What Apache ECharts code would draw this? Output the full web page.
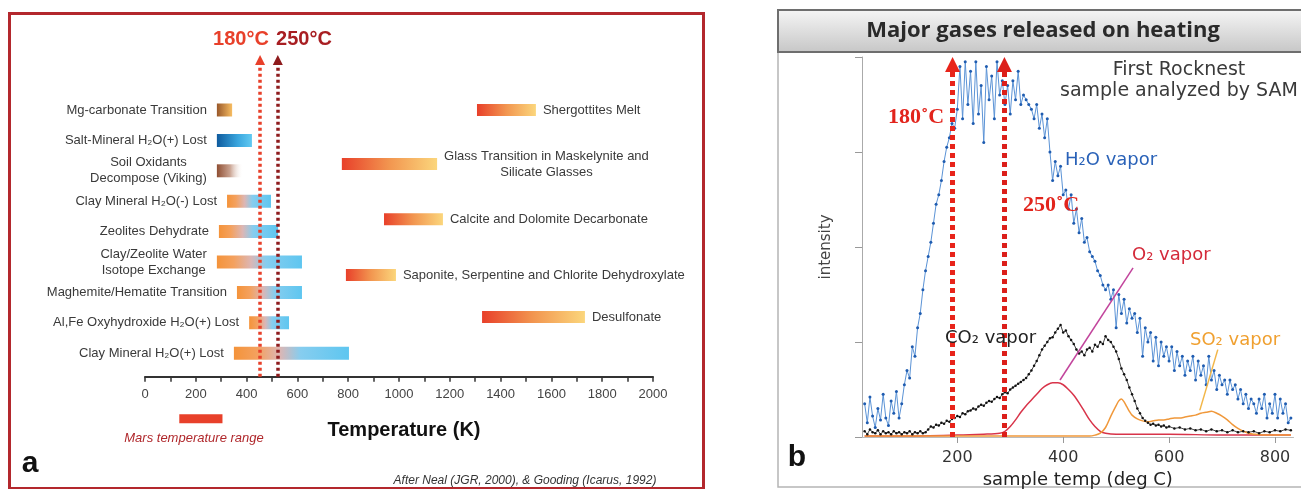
<!DOCTYPE html>
<html><head><meta charset="utf-8">
<script src="https://cdn.jsdelivr.net/npm/echarts@6/dist/echarts.min.js"></script>
<style>html,body{margin:0;padding:0;background:#fff;}#c{width:1301px;height:489px;}</style>
</head><body><div id="c"></div>
<script>
// ---------- Panel a data (temperature in K) ----------
const leftLabels = ['Mg-carbonate Transition', 'Salt-Mineral H\u2082O(+) Lost', 'Soil Oxidants\nDecompose (Viking)', 'Clay Mineral H\u2082O(-) Lost', 'Zeolites Dehydrate', 'Clay/Zeolite Water\nIsotope Exchange', 'Maghemite/Hematite Transition', 'Al,Fe Oxyhydroxide H\u2082O(+) Lost', 'Clay Mineral H\u2082O(+) Lost'];
const leftStart = [283, 283, 283, 323, 291, 283, 362, 410, 350];
const leftEnd   = [343, 421, 386, 496, 524, 618, 618, 567, 803];
const leftRow   = [0, 1, 2, 3, 4, 5, 6, 7, 8];
const leftKind  = ['carb', 'salt', 'oxid', 'clay', 'clay', 'clay', 'clay', 'clay', 'clay'];
const rightLabels = ['Shergottites Melt', 'Glass Transition in Maskelynite and\nSilicate Glasses', 'Calcite and Dolomite Decarbonate', 'Saponite, Serpentine and Chlorite Dehydroxylate', 'Desulfonate'];
const rightStart = [1307, 775, 941, 791, 1327];
const rightEnd   = [1539, 1150, 1173, 988, 1732];
const rightRow   = [0, 1.78, 3.59, 5.43, 6.81];
const marsRange  = [135, 305];
const marsRow    = 10.16;
const markK      = [453, 523];          // 180°C and 250°C in K
const markKLabels = ['180°C', '250°C'];

// ---------- Panel b data (deg C, intensity) ----------
const markC = [191, 289];
const tempTicks = [200, 400, 600, 800];
const h2o = [[25,0.35],[30,0.15],[35,0.42],[40,0.22],[45,0.10],[50,0.30],[55,0.18],[60,0.45],[65,0.20],[70,0.12],[75,0.38],[80,0.25],[85,0.48],[90,0.20],[95,0.35],[100,0.55],[105,0.70],[110,0.62],[115,0.95],[120,0.85],[125,1.15],[130,1.30],[135,1.55],[140,1.75],[145,1.90],[150,2.05],[155,2.25],[160,2.45],[165,2.55],[170,2.70],[175,2.90],[180,3.05],[185,3.15],[190,3.30],[195,3.25],[200,3.45],[205,3.90],[210,3.35],[215,3.95],[220,3.50],[225,3.85],[230,3.30],[235,3.95],[240,3.40],[245,3.70],[250,3.10],[255,3.90],[260,3.55],[265,3.80],[270,3.35],[275,3.95],[280,3.60],[285,3.75],[290,3.50],[295,3.70],[300,3.40],[305,3.75],[310,3.55],[315,3.85],[320,3.50],[325,3.60],[330,3.55],[335,3.50],[340,3.45],[345,3.35],[350,3.50],[355,3.25],[360,3.40],[365,3.15],[370,3.35],[375,3.00],[380,2.70],[385,2.90],[390,2.75],[395,2.85],[400,2.55],[405,2.60],[410,2.40],[415,2.55],[420,2.25],[425,2.40],[430,2.15],[435,2.30],[440,2.05],[445,2.10],[450,1.95],[455,1.90],[460,1.85],[465,1.75],[470,1.70],[475,1.60],[480,1.55],[485,1.60],[490,1.45],[495,1.55],[500,1.15],[505,1.50],[510,1.30],[515,1.45],[520,1.20],[525,1.35],[530,1.25],[535,1.30],[540,1.10],[545,1.25],[550,0.85],[555,1.15],[560,1.00],[565,1.10],[570,0.80],[575,1.05],[580,0.75],[585,1.00],[590,0.85],[595,0.95],[600,0.80],[605,0.95],[610,0.70],[615,0.90],[620,0.75],[625,0.85],[630,0.65],[635,0.80],[640,0.70],[645,0.85],[650,0.60],[655,0.80],[660,0.65],[665,0.75],[670,0.55],[675,0.85],[680,0.60],[685,0.70],[690,0.50],[695,0.65],[700,0.55],[705,0.60],[710,0.45],[715,0.60],[720,0.50],[725,0.55],[730,0.40],[735,0.50],[740,0.35],[745,0.45],[750,0.30],[755,0.40],[760,0.35],[765,0.25],[770,0.40],[775,0.30],[780,0.45],[785,0.20],[790,0.35],[795,0.25],[800,0.45],[805,0.20],[810,0.40],[815,0.25],[820,0.35],[825,0.15],[830,0.20]];
const co2 = [[25,0.06],[30,0.03],[35,0.08],[40,0.05],[45,0.04],[50,0.07],[55,0.03],[60,0.06],[65,0.04],[70,0.05],[75,0.03],[80,0.06],[85,0.04],[90,0.05],[95,0.03],[100,0.05],[105,0.04],[110,0.06],[115,0.03],[120,0.05],[125,0.04],[130,0.06],[135,0.04],[140,0.05],[145,0.08],[150,0.11],[155,0.10],[160,0.13],[165,0.12],[170,0.15],[175,0.14],[180,0.17],[185,0.16],[190,0.19],[195,0.20],[200,0.22],[205,0.21],[210,0.25],[215,0.24],[220,0.27],[225,0.28],[230,0.30],[235,0.29],[240,0.32],[245,0.34],[250,0.33],[255,0.36],[260,0.38],[265,0.37],[270,0.40],[275,0.42],[280,0.41],[285,0.45],[290,0.47],[295,0.46],[300,0.50],[305,0.52],[310,0.54],[315,0.56],[320,0.58],[325,0.60],[330,0.62],[335,0.66],[340,0.70],[345,0.75],[350,0.80],[355,0.86],[360,0.92],[365,0.96],[370,1.00],[375,1.04],[380,1.05],[385,1.10],[390,1.14],[395,1.18],[400,1.10],[405,1.12],[410,1.06],[415,1.02],[420,0.98],[425,0.92],[430,0.88],[435,0.90],[440,0.86],[445,0.92],[450,0.94],[455,0.90],[460,0.97],[465,0.95],[470,1.00],[475,0.98],[480,1.06],[485,1.02],[490,1.00],[495,0.95],[500,0.90],[505,0.82],[510,0.72],[515,0.66],[520,0.60],[525,0.52],[530,0.45],[535,0.38],[540,0.30],[545,0.25],[550,0.20],[555,0.17],[560,0.15],[565,0.13],[570,0.14],[575,0.12],[580,0.13],[585,0.11],[590,0.12],[595,0.10],[600,0.11],[610,0.09],[620,0.10],[630,0.08],[640,0.09],[650,0.07],[660,0.08],[670,0.06],[680,0.08],[690,0.06],[700,0.07],[710,0.05],[720,0.07],[730,0.05],[740,0.06],[750,0.05],[760,0.06],[770,0.04],[780,0.06],[790,0.05],[800,0.07],[810,0.06],[820,0.08],[830,0.07]];
const o2 = [[25,0.01],[100,0.01],[200,0.02],[250,0.03],[280,0.04],[290,0.06],[300,0.11],[310,0.18],[320,0.26],[330,0.33],[340,0.39],[350,0.45],[360,0.51],[370,0.55],[380,0.57],[390,0.57],[400,0.55],[410,0.50],[420,0.44],[430,0.36],[440,0.27],[450,0.18],[460,0.11],[470,0.06],[480,0.04],[500,0.03],[600,0.03],[700,0.02],[830,0.02]];
const so2 = [[25,0.01],[100,0.01],[200,0.01],[300,0.01],[400,0.01],[450,0.01],[460,0.02],[470,0.04],[480,0.10],[490,0.22],[500,0.33],[505,0.38],[510,0.40],[515,0.37],[520,0.32],[525,0.27],[530,0.23],[540,0.19],[550,0.17],[560,0.16],[570,0.17],[580,0.18],[590,0.18],[600,0.19],[610,0.20],[620,0.20],[630,0.21],[640,0.22],[650,0.23],[660,0.25],[670,0.26],[680,0.27],[690,0.25],[700,0.22],[710,0.18],[720,0.13],[730,0.09],[740,0.06],[750,0.04],[760,0.03],[780,0.02],[830,0.02]];
const o2Leader  = [[394, 0.60], [532, 1.78]];
const so2Leader = [[658, 0.28], [692, 0.92]];

// ---------- build ----------
const items = [];
leftLabels.forEach((l, i) => items.push({v: [leftStart[i], leftEnd[i], leftRow[i]], kind: leftKind[i], label: l, side: 'left'}));
rightLabels.forEach((l, i) => items.push({v: [rightStart[i], rightEnd[i], rightRow[i]], kind: 'hot', label: l, side: 'right'}));
items.push({v: [marsRange[0], marsRange[1], marsRow], kind: 'mars', label: null});

const G = (stops) => new echarts.graphic.LinearGradient(0, 0, 1, 0, stops.map(s => ({offset: s[0], color: s[1]})));
const fills = {
  carb: G([[0, '#99582a'], [1, '#f7bd62']]),
  salt: G([[0, '#0f5b9e'], [0.6, '#3aa6de'], [1, '#62caf2']]),
  oxid: G([[0, '#8f4f33'], [0.5, '#c9a290'], [1, 'rgba(255,255,255,0)']]),
  clay: G([[0, '#f4933a'], [0.2, '#f4a15e'], [0.4, '#dcb6b4'], [0.58, '#86cdef'], [1, '#5ec6f0']]),
  hot:  G([[0, '#e8402a'], [0.5, '#f29650'], [1, '#fbd67c']]),
  mars: '#e8402a'
};
const heights = {carb: 13, salt: 13, oxid: 13, clay: 13, hot: 12, mars: 9};
const LAB_FONT = '13px "Liberation Sans"';
const mctx = document.createElement('canvas').getContext('2d');
mctx.font = LAB_FONT;
const textW = s => Math.max.apply(null, s.split('\n').map(t => mctx.measureText(t).width));

function renderBar(params, api) {
  const it = items[params.dataIndex];
  const a = api.coord([api.value(0), api.value(2)]);
  const b = api.coord([api.value(1), api.value(2)]);
  const h = heights[it.kind];
  const kids = [{type: 'rect', shape: {x: a[0], y: a[1] - h / 2, width: b[0] - a[0], height: h}, style: {fill: fills[it.kind]}}];
  if (it.label) {
    const w = textW(it.label);
    const cx = it.side === 'left' ? a[0] - 10 - w / 2 : b[0] + 7 + w / 2;
    kids.push({type: 'text', x: cx, y: a[1], style: {text: it.label, align: 'center', verticalAlign: 'middle', font: LAB_FONT, fill: '#3a3a3a', lineHeight: 16}});
  }
  return {type: 'group', children: kids};
}

const Y0MIN = -1.809, Y0MAX = 8.773;
function vline(xv, color, width, dash, yTop, yBot, size) {
  return {
    silent: true, symbol: ['none', 'triangle'], symbolSize: size,
    label: {show: false},
    lineStyle: {color: color, width: width, type: dash, cap: 'butt'},
    itemStyle: {color: color},
    data: [[{coord: [xv, yBot]}, {coord: [xv, yTop]}]]
  };
}
function leader(pts, color) {
  return {silent: true, symbol: ['none', 'none'], label: {show: false},
    lineStyle: {color: color, width: 1.5, type: 'solid'},
    data: [[{coord: pts[0]}, {coord: pts[1]}]]};
}

const txt = (text, x, y, font, fill, align) => ({type: 'text', x: x, y: y, z: 100,
  style: {text: text, font: font, fill: fill, align: align || 'center', verticalAlign: 'middle'}});

const option = {
  animation: false,
  backgroundColor: '#ffffff',
  grid: [
    {left: 145, top: 55, width: 508, height: 321.7, outerBoundsMode: 'none', containLabel: false},
    {left: 862, top: 57, width: 431.5, height: 380, outerBoundsMode: 'none', containLabel: false}
  ],
  xAxis: [
    {gridIndex: 0, type: 'value', min: 0, max: 2000, interval: 200,
      axisLine: {onZero: false, lineStyle: {color: '#333', width: 2}},
      axisTick: {show: true, length: 5, lineStyle: {color: '#333', width: 1.5}},
      minorTick: {show: true, splitNumber: 2, length: 5, lineStyle: {color: '#333', width: 1.5}},
      axisLabel: {color: '#444', fontSize: 13, margin: 11, fontFamily: 'Liberation Sans', formatter: v => String(v)},
      splitLine: {show: false}},
    {gridIndex: 1, type: 'value', min: 20, max: 835,
      axisLine: {onZero: false, lineStyle: {color: '#bbbbbb', width: 1}},
      axisTick: {show: true, customValues: tempTicks, length: 6, lineStyle: {color: '#999'}},
      axisLabel: {customValues: tempTicks, color: '#333', fontSize: 16, margin: 13, fontFamily: 'DejaVu Sans', formatter: v => String(v)},
      splitLine: {show: false},
      name: 'sample temp (deg C)', nameLocation: 'middle', nameGap: 30,
      nameTextStyle: {color: '#222', fontSize: 18, fontFamily: 'DejaVu Sans'}}
  ],
  yAxis: [
    {gridIndex: 0, type: 'value', inverse: true, min: Y0MIN, max: Y0MAX, show: false},
    {gridIndex: 1, type: 'value', min: 0, max: 4, interval: 1,
      axisLine: {show: true, onZero: false, lineStyle: {color: '#aaaaaa'}},
      axisTick: {show: true, length: 7, lineStyle: {color: '#999'}},
      axisLabel: {show: false}, splitLine: {show: false},
      name: 'intensity', nameLocation: 'middle', nameGap: 28,
      nameTextStyle: {color: '#444', fontSize: 15, fontFamily: 'DejaVu Sans'}}
  ],
  series: [
    {type: 'custom', name: 'processes', xAxisIndex: 0, yAxisIndex: 0, renderItem: renderBar,
      encode: {x: [0, 1], y: 2}, data: items.map(it => it.v), z: 2, clip: false},
    {type: 'line', name: 'm180K', xAxisIndex: 0, yAxisIndex: 0, data: [], z: 5,
      markLine: vline(markK[0], '#e8402a', 3.5, [3, 3], -1.645, Y0MAX, 10)},
    {type: 'line', name: 'm250K', xAxisIndex: 0, yAxisIndex: 0, data: [], z: 5,
      markLine: vline(markK[1], '#8e1b1d', 3.5, [3, 3], -1.645, Y0MAX, 10)},
    {type: 'line', name: 'H2O', xAxisIndex: 1, yAxisIndex: 1, data: h2o,
      symbol: 'circle', symbolSize: 3, showSymbol: true,
      lineStyle: {color: '#5b93d6', width: 1}, itemStyle: {color: '#1f5cb0'}},
    {type: 'line', name: 'CO2', xAxisIndex: 1, yAxisIndex: 1, data: co2,
      symbol: 'circle', symbolSize: 2.5, showSymbol: true,
      lineStyle: {color: '#444', width: 1}, itemStyle: {color: '#111'}},
    {type: 'line', name: 'O2', xAxisIndex: 1, yAxisIndex: 1, data: o2, showSymbol: false, smooth: 0.3,
      lineStyle: {color: '#d8344a', width: 1.5}, itemStyle: {color: '#d8344a'},
      markLine: leader(o2Leader, '#c2449c')},
    {type: 'line', name: 'SO2', xAxisIndex: 1, yAxisIndex: 1, data: so2, showSymbol: false, smooth: 0.3,
      lineStyle: {color: '#f0983a', width: 1.5}, itemStyle: {color: '#f0983a'},
      markLine: leader(so2Leader, '#f2b648')},
    {type: 'line', name: 'm180C', xAxisIndex: 1, yAxisIndex: 1, data: [], z: 6,
      markLine: vline(markC[0], '#e8241a', 5, [5, 4], 3.92, 0, 15)},
    {type: 'line', name: 'm250C', xAxisIndex: 1, yAxisIndex: 1, data: [], z: 6,
      markLine: vline(markC[1], '#dc1f1a', 5, [5, 4], 3.92, 0, 15)}
  ],
  graphic: [
    {type: 'rect', z: 0, shape: {x: 9.5, y: 13.5, width: 694, height: 475}, style: {fill: 'none', stroke: '#b3282d', lineWidth: 3}},
    {type: 'rect', z: 0, shape: {x: 778, y: 10, width: 540, height: 477}, style: {fill: 'none', stroke: '#b5b5b5', lineWidth: 1.5}},
    {type: 'rect', z: 50, shape: {x: 778, y: 10, width: 540, height: 42},
      style: {fill: new echarts.graphic.LinearGradient(0, 0, 0, 1, [{offset: 0, color: '#f6f6f6'}, {offset: 1, color: '#c6c6c6'}]), stroke: '#6e6e6e', lineWidth: 2}},
    txt(markKLabels[0], 241, 39, 'bold 20px "Liberation Sans"', '#e8402a'),
    txt(markKLabels[1], 304, 39, 'bold 20px "Liberation Sans"', '#a81e22'),
    txt('Temperature (K)', 404, 430, 'bold 20px "Liberation Sans"', '#111'),
    txt('Mars temperature range', 194, 438, 'italic 13px "Liberation Sans"', '#b0282c'),
    txt('a', 30, 464, 'bold 30px "Liberation Sans"', '#111'),
    txt('After Neal (JGR, 2000), & Gooding (Icarus, 1992)', 525, 481, 'italic 12px "Liberation Sans"', '#333'),
    txt('Major gases released on heating', 1043, 31, 'bold 22px "Open Sans"', '#2a2a2a'),
    txt('First Rocknest', 1179, 70, '19px "DejaVu Sans"', '#3a3a3a'),
    txt('sample analyzed by SAM', 1060, 91, '19px "DejaVu Sans"', '#3a3a3a', 'left'),
    txt('H\u2082O vapor', 1065, 160, '18px "DejaVu Sans"', '#2a62b8', 'left'),
    txt('O\u2082 vapor', 1132, 255, '18px "DejaVu Sans"', '#d42a3a', 'left'),
    txt('CO\u2082 vapor', 945, 338, '18px "DejaVu Sans"', '#222', 'left'),
    txt('SO\u2082 vapor', 1190, 340, '18px "DejaVu Sans"', '#f0a030', 'left'),
    txt('180\u02DAC', 916, 117, 'bold 22px "Liberation Serif"', '#e2241c'),
    txt('250\u02DAC', 1051, 205, 'bold 22px "Liberation Serif"', '#e2241c'),
    txt('b', 797, 458, 'bold 30px "Liberation Sans"', '#111')
  ]
};
const chart = echarts.init(document.getElementById('c'), null, {renderer: 'canvas'});
chart.setOption(option);
</script></body></html>
